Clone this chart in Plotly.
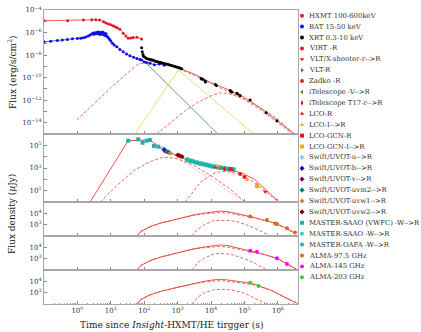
import plotly.graph_objects as go

# ---------------- data ----------------
# Panel 1: X-ray / gamma-ray flux (erg/s/cm^2) vs time (s)
hxmt_t = [0.1, 0.51, 1.51, 2.69, 3.55, 4.57, 6.03, 7.08, 8.51, 10, 11.7, 13.5, 15.5, 18.6, 23.4, 28.2, 33.1, 39.8, 46.8, 60.3, 83.2]
hxmt_f = [1.12e-5, 1.12e-5, 1.29e-5, 1.35e-5, 1.38e-5, 1.32e-5, 9.3e-6, 7.1e-6, 5.75e-6, 4.8e-6, 4.1e-6, 3.3e-6, 2.7e-6, 1.95e-6, 8.5e-7, 5.0e-7, 3.1e-7, 3.3e-7, 3.55e-7, 3.8e-7, 2.7e-7]

bat_t = [0.1, 0.158, 0.251, 0.355, 0.501, 0.708, 1.0, 1.26, 1.51, 1.78, 2.09, 2.4, 2.69, 2.95, 3.16, 3.39, 3.63, 3.89, 4.17, 4.37,
         4.68, 5.01, 5.25, 5.62, 6.03, 6.31, 6.76, 7.24, 7.76, 8.32, 9.12, 10, 11.2, 12.6, 15.1, 18.6, 23.4, 29.5, 37.2, 47.9,
         60.3, 74.1, 83.2, 100, 117, 148, 200, 282, 398]
bat_f = [1.51e-7, 1.66e-7, 2.0e-7, 2.19e-7, 2.4e-7, 2.82e-7, 3.0e-7, 3.16e-7, 3.47e-7, 3.98e-7, 5.0e-7, 6.0e-7, 7.6e-7, 8.9e-7, 7.1e-7, 9.5e-7, 7.9e-7, 1.05e-6, 8.3e-7, 1.12e-6,
         6.6e-7, 1.0e-6, 7.6e-7, 1.1e-6, 6.3e-7, 8.9e-7, 5.6e-7, 7.9e-7, 4.5e-7, 3.55e-7, 2.5e-7, 1.78e-7, 1.12e-7, 7.9e-8, 5.5e-8, 3.16e-8, 2.0e-8, 1.26e-8, 8.7e-9, 6.3e-9,
         5.1e-9, 4.0e-9, 3.6e-9, 2.5e-9, 2.24e-9, 1.86e-9, 1.41e-9, 1.58e-9, 1.26e-9]

xrt_t = [83.2, 87.1, 91.2, 95.5, 105, 117, 132, 148, 166, 186, 209, 234, 263, 295, 331, 372, 417, 468, 525, 589, 661, 741, 832, 933,
         1047, 1175, 1318, 5012, 5248, 5623, 6607, 6761, 13490, 14450, 37150, 39810, 41690, 58880, 63100, 74130, 147900, 446700, 933000]
xrt_f = [4.47e-8, 2.0e-8, 1.12e-8, 7.9e-9, 6.3e-9, 5.1e-9, 4.47e-9, 4.0e-9, 3.8e-9, 3.47e-9, 3.0e-9, 2.75e-9, 2.5e-9, 2.3e-9, 2.1e-9, 1.9e-9, 1.74e-9, 1.58e-9, 1.45e-9, 1.32e-9, 1.17e-9, 1.07e-9, 9.8e-10, 8.7e-10,
         7.9e-10, 7.1e-10, 6.0e-10, 8.3e-11, 7.6e-11, 7.1e-11, 5.0e-11, 4.0e-11, 2.4e-11, 2.0e-11, 7.1e-12, 6.0e-12, 5.25e-12, 4.2e-12, 3.55e-12, 2.6e-12, 1.02e-12, 7.8e-14, 1.5e-14]

# Panel 1 model curves
m1_tot_t = [100, 200, 398, 1000, 3162, 1e4, 31620, 1e5, 316200, 1e6, 3162000]
m1_tot_f = [5.6e-9, 3.16e-9, 1.78e-9, 7.9e-10, 2.0e-10, 3.55e-11, 8.9e-12, 1.78e-12, 1.78e-13, 1.41e-14, 1.0e-15]
m1_fs1_t = [0.955, 3.16, 10, 31.6, 60.3, 100, 158, 251, 501, 1000, 3162, 1e4, 31620, 1e5, 316200, 1e6, 3162000]
m1_fs1_f = [1.74e-14, 5.0e-13, 1.26e-11, 2.5e-10, 1.32e-9, 2.24e-9, 2.6e-9, 2.4e-9, 1.41e-9, 6.6e-10, 1.58e-10, 3.0e-11, 6.3e-12, 1.12e-12, 1.26e-13, 1.0e-14, 7.1e-16]
m1_fs2_t = [234, 631, 1585, 3981, 1e4, 18620, 31620, 1e5, 316200, 1e6, 2884000]
m1_fs2_f = [1e-15, 1e-14, 1e-13, 6.3e-13, 2.5e-12, 4.47e-12, 4.0e-12, 1.26e-12, 2.0e-13, 2.0e-14, 1.12e-15]
green_t = [89.1, 15850]
green_f = [4.0e-9, 1.0e-15]
yellow_t = [52.5, 1047, 186200]
yellow_f = [1e-15, 4.8e-10, 1e-15]

# Panel 2: optical flux density (uJy)
m2_tot_t = [2.4, 33.1, 148, 251, 417, 794, 1585, 3162, 6310, 12590, 25120, 50120, 1e5, 199500, 398100, 1047000]
m2_tot_f = [1.0, 2.57e5, 2.95e5, 8.9e4, 3.9e4, 1.58e4, 6310, 3162, 1778, 1202, 891, 562, 282, 100, 14, 1.1]
m2_fs1_t = [4.79, 15.8, 50.1, 148, 316, 525, 1000, 3162, 1e4, 31620, 104700]
m2_fs1_f = [1.0, 31.6, 631, 3630, 7943, 8710, 6310, 1585, 200, 20, 1.0]
m2_rs_t = [33.1, 148, 417, 3162, 19950, 1e5]
m2_rs_f = [2.57e5, 2.95e5, 4.17e4, 891, 25.1, 1.0]
m2_fs2_t = [1660, 5012, 13180, 25120, 63100, 158500, 398100, 1047000]
m2_fs2_f = [1.0, 63, 398, 501, 316, 79, 10, 1.0]

vwfc_t = [33.1, 66.1, 89.1, 117.5, 147.9, 195, 263]
vwfc_f = [2.57e5, 3.39e5, 1.7e5, 2.57e5, 2.95e5, 8.7e4, 7.6e4]
oafa_t = [1862, 2239, 2630, 3162, 3715, 4467, 5248, 6310, 7413, 8913, 10470, 12590, 14790, 17780, 20890, 25120, 29510, 35480, 41690, 46770]
oafa_f = [5248, 4169, 3802, 3162, 2818, 2399, 2138, 1905, 1660, 1514, 1318, 1202, 1122, 1000, 933, 851, 794, 759, 708, 676]
saao_t = [1950, 2350, 2750, 3300, 3900, 4650, 5500, 6600, 7700, 9300, 11000, 13100, 15400, 18500, 21800, 26200, 30800, 37000, 43500, 48500]
saao_f = [6300, 5000, 4560, 3800, 3380, 2880, 2570, 2290, 1990, 1820, 1580, 1440, 1350, 1200, 1120, 1020, 950, 910, 850, 810]
uvu_t, uvu_f = [355], [5.0e4]
uvb_t, uvb_f = [398], [4.17e4]
uvv_t, uvv_f = [417, 525], [3.16e4, 2.51e4]
uvm2_t, uvm2_f = [479], [2.8e4]
uvw1_t, uvw1_f = [603], [2.0e4]
uvw2_t, uvw2_f = [1000, 1122, 1349], [1.41e4, 1.26e4, 1.0e4]
lcor_t, lcor_f = [13180, 41690], [1148, 661]
zadko_t, zadko_f = [74130], [295]
vltr_t, vltr_f = [234400], [31.6]
virt_t, virt_f = [1e5], [158]
lcogr_t, lcogr_f = [38020], [794]
lcoi_t, lcoi_f = [15490, 117500], [1514, 89]
lcogi_t, lcogi_f = [234400], [25]
xsh_t, xsh_f = [416900], [8.1]
itv_t, itv_f = [19950], [1000]
it17_t, it17_f = [25120], [832]

# Panels 3-5: ALMA light curves (uJy) and models
m3_tot_t = [60.3, 79.4, 148, 316, 741, 1585, 2951, 6310, 12590, 18620, 31620, 74130, 186200, 398100, 741300, 1585000, 3236000]
m3_tot_f = [100, 251, 661, 1413, 2570, 4467, 7079, 10470, 14130, 15850, 14130, 8710, 4467, 2399, 1479, 562, 174]
m3_fs1_f = [100, 251, 661, 1413, 2570, 4365, 6607, 9120, 11220, 11750, 10720, 7244, 4169, 2344, 1479, 562, 174]
m3_fs2_t = [2630, 3981, 6310, 11750, 29510, 63100, 117500, 251200, 588800]
m3_fs2_f = [100, 398, 1000, 2239, 2399, 1778, 933, 355, 100]
alma97_t = [147900, 467700, 831800, 933300, 1862000, 3236000]
alma97_f = [5129, 2570, 1259, 1148, 479, 200]

m4_tot_t = [60.3, 79.4, 148, 316, 741, 1585, 2951, 6310, 12590, 18620, 31620, 74130, 147900, 316200, 933300, 1862000, 3981000]
m4_tot_f = [100, 251, 661, 1413, 2630, 4571, 7244, 10720, 14790, 16220, 14130, 7943, 5248, 2818, 1072, 355, 100]
m4_fs1_f = [100, 251, 661, 1413, 2630, 4467, 6918, 9333, 11750, 12020, 10470, 6607, 4571, 2630, 1072, 355, 100]
m4_fs2_t = [2630, 3981, 6310, 11750, 18620, 39810, 1e5, 199500, 467700]
m4_fs2_f = [100, 447, 1122, 2512, 2951, 2399, 1000, 398, 100]
alma145_t = [147900, 234400, 933300, 1862000]
alma145_f = [5012, 4169, 1072, 339]

m5_tot_t = [60.3, 79.4, 148, 316, 741, 1585, 2951, 6310, 12590, 18620, 31620, 74130, 147900, 263000, 631000, 1585000, 4169000]
m5_tot_f = [100, 251, 631, 1318, 2399, 4169, 6607, 10000, 13800, 15140, 13180, 9333, 7079, 4169, 1585, 398, 100]
m5_fs1_f = [100, 251, 631, 1318, 2399, 4074, 6310, 8913, 11220, 11480, 10000, 7244, 5623, 3715, 1585, 398, 100]
m5_fs2_t = [2630, 3981, 6310, 11750, 18620, 39810, 1e5, 199500, 467700]
m5_fs2_f = [100, 398, 1000, 1778, 1995, 1778, 891, 355, 100]
alma203_t = [147900, 263000]
alma203_f = [7586, 3890]

# Legend entries
leg_names = ["HXMT 100-600keV", "BAT 15-50 keV", "XRT 0.3-10 keV", "VIRT -R", "VLT/X-shooter-r-->R", "VLT-R", "Zadko -R",
             "iTelescope -V-->R", "iTelescope T17-r-->R", "LCO-R", "LCO-I-->R", "LCO-GCN-R", "LCO-GCN-I-->R",
             "Swift/UVOT-u-->R", "Swift/UVOT-b-->R", "Swift/UVOT-v-->R", "Swift/UVOT-uvm2-->R", "Swift/UVOT-uvw1-->R",
             "Swift/UVOT-uvw2-->R", "MASTER-SAAO (VWFC) -W-->R", "MASTER-SAAO -W-->R", "MASTER-OAFA -W-->R",
             "ALMA-97.5 GHz", "ALMA-145 GHz", "ALMA-203 GHz"]
leg_colors = ["#e41a1c", "#1010e0", "#000000", "#e41a1c", "#d62020", "#e03030", "#d62728", "#6b8e23", "#dc143c",
              "#e41a1c", "#f5a623", "#e41a1c", "#f5a623", "#87cefa", "#1010c0", "#800080", "#008080", "#cd853f",
              "#8b0000", "#20b2aa", "#3cc8c8", "#20b2aa", "#d2691e", "#ff00ff", "#32cd32"]
leg_symbols = ["circle", "circle", "circle", "circle", "triangle-down", "triangle-right", "circle", "triangle-left",
               "diamond-tall", "triangle-up", "triangle-up", "square", "square", "diamond", "diamond", "diamond",
               "diamond", "diamond", "diamond", "square", "circle", "circle", "circle", "circle", "circle"]

# ---------------- figure ----------------
W, H = 421, 332
ML, MR, MT, MB = 44, 0, 10, 28
PW, PH = W - ML - MR, H - MT - MB
x_right = 298
panels = [(10, 134), (134, 202), (202, 236), (236, 270), (270, 304)]
xdom = [0, (x_right - ML) / PW]

RED = "#e8403a"
fig = go.Figure()


def add(i, x, y, **kw):
    ax = "" if i == 1 else str(i)
    fig.add_trace(go.Scatter(x=x, y=y, xaxis="x" + ax, yaxis="y" + ax,
                             showlegend=False, hoverinfo="skip", **kw))


solid = dict(mode="lines", line=dict(color=RED, width=0.9))
dashed = dict(mode="lines", line=dict(color=RED, width=0.8, dash="3px,2px"))
dotted = dict(mode="lines", line=dict(color="#f08080", width=0.7, dash="1px,1.5px"))

# panel 1
add(1, green_t, green_f, mode="lines", line=dict(color="#3a8f4a", width=0.8))
add(1, yellow_t, yellow_f, mode="lines", line=dict(color="#d8d860", width=0.8))
add(1, m1_fs1_t, m1_fs1_f, **dashed)
add(1, m1_fs2_t, m1_fs2_f, **dashed)
add(1, m1_tot_t, m1_tot_f, **solid)
add(1, hxmt_t, hxmt_f, mode="lines+markers", line=dict(color="#e41a1c", width=0.7),
    marker=dict(color="#e41a1c", size=3))
add(1, bat_t, bat_f, mode="lines+markers", line=dict(color="#1010e0", width=0.7),
    marker=dict(color="#1010e0", size=3))
add(1, xrt_t, xrt_f, mode="markers", marker=dict(color="#000000", size=3))

# panel 2
add(2, m2_rs_t, m2_rs_f, **dotted)
add(2, m2_fs1_t, m2_fs1_f, **dashed)
add(2, m2_fs2_t, m2_fs2_f, **dashed)
add(2, m2_tot_t, m2_tot_f, **solid)
pts2 = [(saao_t, saao_f, 20), (oafa_t, oafa_f, 21), (vwfc_t, vwfc_f, 19), (uvu_t, uvu_f, 13), (uvb_t, uvb_f, 14),
        (uvv_t, uvv_f, 15), (uvm2_t, uvm2_f, 16), (uvw1_t, uvw1_f, 17), (uvw2_t, uvw2_f, 18),
        (lcor_t, lcor_f, 9), (zadko_t, zadko_f, 6), (vltr_t, vltr_f, 5), (virt_t, virt_f, 3),
        (lcogr_t, lcogr_f, 11), (lcoi_t, lcoi_f, 10), (lcogi_t, lcogi_f, 12), (xsh_t, xsh_f, 4),
        (itv_t, itv_f, 7), (it17_t, it17_f, 8)]
for tx, fx, k in pts2:
    add(2, tx, fx, mode="markers", marker=dict(color=leg_colors[k], symbol=leg_symbols[k], size=4))

# panels 3-5
for i, (tt, tot, fs1, ft2, fs2, dt, df, k) in zip(
        [3, 4, 5],
        [(m3_tot_t, m3_tot_f, m3_fs1_f, m3_fs2_t, m3_fs2_f, alma97_t, alma97_f, 22),
         (m4_tot_t, m4_tot_f, m4_fs1_f, m4_fs2_t, m4_fs2_f, alma145_t, alma145_f, 23),
         (m5_tot_t, m5_tot_f, m5_fs1_f, m5_fs2_t, m5_fs2_f, alma203_t, alma203_f, 24)]):
    add(i, tt, fs1, **dashed)
    add(i, ft2, fs2, **dashed)
    add(i, tt, tot, **solid)
    add(i, dt, df, mode="markers", marker=dict(color=leg_colors[k], size=4))

# legend drawn on its own invisible axis (pixel coordinates)
leg_y = [15.7 + 10.9 * k for k in range(len(leg_names))]
fig.add_trace(go.Scatter(x=[302] * len(leg_names), y=leg_y, xaxis="x6", yaxis="y6", mode="markers",
                         marker=dict(color=leg_colors, symbol=leg_symbols, size=4),
                         showlegend=False, hoverinfo="skip"))
annotations = []
for name, yy in zip(leg_names, leg_y):
    annotations.append(dict(x=306.5, y=yy, xref="x6", yref="y6", text=name, showarrow=False,
                            xanchor="left", yanchor="middle",
                            font=dict(family="DejaVu Serif", size=6.9, color="#333333")))

# axis titles
annotations.append(dict(x=0, y=(304 - 72) / PH, xref="paper", yref="paper", xshift=-32,
                        xanchor="center", yanchor="middle",
                        text="Flux (erg/s/cm<sup>2</sup>)", textangle=-90, showarrow=False,
                        font=dict(family="DejaVu Serif", size=9, color="#222")))
annotations.append(dict(x=0, y=(304 - 214) / PH, xref="paper", yref="paper", xshift=-32,
                        xanchor="center", yanchor="middle",
                        text="Flux density (<i>μ</i>Jy)", textangle=-90, showarrow=False,
                        font=dict(family="DejaVu Serif", size=9, color="#222")))
annotations.append(dict(x=(171 - ML) / PW, y=0, xref="paper", yref="paper", yshift=-21,
                        xanchor="center", yanchor="middle",
                        text="Time since <i>Insight</i>-HXMT/HE tirgger (s)", showarrow=False,
                        font=dict(family="DejaVu Serif", size=9, color="#222")))

sup = lambda e: "10<sup>%s</sup>" % (str(e).replace("-", "\u2212"))
minor_x = [m * 10 ** e for e in range(-1, 7) for m in range(2, 10)]

layout = dict(width=W, height=H, margin=dict(l=ML, r=MR, t=MT, b=MB),
              paper_bgcolor="white", plot_bgcolor="white",
              font=dict(family="DejaVu Serif", size=7, color="#333"),
              annotations=annotations)

# (range, labelled decades, unlabelled decades)
ytick_sets = [
    ([-15, -4], list(range(-14, -3, 2)), list(range(-15, -4, 2))),
    ([0, 6], [1, 3, 5], [0, 2, 4, 6]),
    ([2, 5], [3, 4], [2, 5]),
    ([2, 5], [3, 4], [2, 5]),
    ([2, 5], [3, 4], [2, 5]),
]
for i, ((top, bot), (rng, lab, unl)) in enumerate(zip(panels, ytick_sets), start=1):
    ax = "" if i == 1 else str(i)
    layout["xaxis" + ax] = dict(
        type="log", range=[-1, 6.6], domain=xdom, anchor="y" + ax,
        showline=True, mirror=True, linecolor="#a8a8a8", linewidth=1,
        ticks="inside", ticklen=3, tickcolor="#888", tickwidth=0.8,
        tickmode="array", tickvals=[10 ** e for e in range(0, 7)], ticktext=[sup(e) for e in range(0, 7)],
        showticklabels=(i == 5), showgrid=False, zeroline=False,
        minor=dict(tickmode="array", tickvals=minor_x, ticks="inside", ticklen=1.5, tickcolor="#999", tickwidth=0.6),
        tickfont=dict(family="DejaVu Serif", size=7, color="#333"),
    )
    if i != 1:
        layout["xaxis" + ax]["matches"] = "x"
    layout["yaxis" + ax] = dict(
        type="log", range=rng, domain=[(304 - bot) / PH, (304 - top) / PH], anchor="x" + ax,
        showline=True, mirror=True, linecolor="#a8a8a8", linewidth=1,
        ticks="inside", ticklen=3, tickcolor="#888", tickwidth=0.8,
        tickmode="array", tickvals=[10 ** e for e in lab], ticktext=[sup(e) for e in lab],
        minor=dict(tickmode="array", tickvals=[10 ** e for e in unl], ticks="inside", ticklen=3,
                   tickcolor="#888", tickwidth=0.8),
        showgrid=False, zeroline=False,
        tickfont=dict(family="DejaVu Serif", size=7, color="#333"),
    )

layout["xaxis6"] = dict(domain=[(x_right + 2 - ML) / PW, 1], range=[x_right + 2, W], visible=False,
                        anchor="y6", showgrid=False, zeroline=False)
layout["yaxis6"] = dict(domain=[0, 1], range=[304, 10], visible=False, anchor="x6",
                        showgrid=False, zeroline=False)

fig.update_layout(**layout)
fig.write_html("out.html")
